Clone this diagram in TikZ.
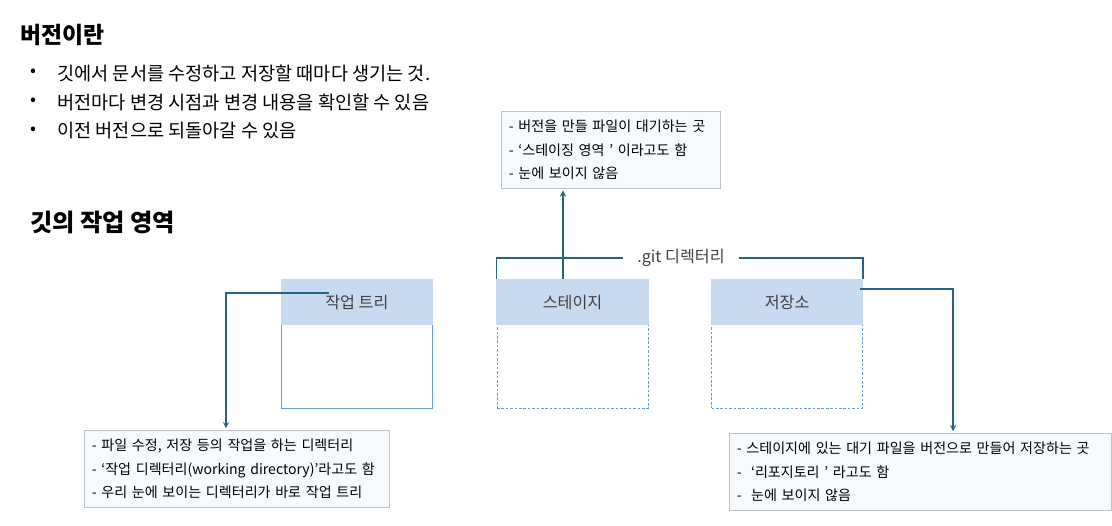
\documentclass[tikz,border=0pt]{standalone}
\usepackage{fontspec}
\setmainfont{Noto Sans CJK KR}
\usepackage{xcolor}
\usetikzlibrary{positioning, arrows}
\definecolor{linkblue}{RGB}{35,100,135}
\definecolor{headblue}{RGB}{200,218,240}
\definecolor{bodyblue}{RGB}{96,160,215}
\definecolor{notefill}{RGB}{246,250,253}
\definecolor{notegrey}{RGB}{190,195,200}
\definecolor{headtext}{RGB}{64,64,64}
\tikzstyle{title} = [anchor=west, inner sep=0pt, font=\fontsize{13}{15}\selectfont\bfseries]
\tikzstyle{bullettext} = [anchor=west, inner sep=0pt, font=\fontsize{10.6}{12}\selectfont]
\tikzstyle{bulletdot} = [inner sep=0pt, font=\fontsize{10}{12}\selectfont]
\tikzstyle{areabody} = [rectangle, draw=bodyblue, minimum width=3.02cm, minimum height=2.58cm, anchor=north west]
\tikzstyle{areahead} = [rectangle, draw=headblue, fill=headblue, line width=0.8pt, minimum width=3.02cm, minimum height=0.9cm, anchor=north, text=headtext, font=\fontsize{9.2}{11}\selectfont]
\tikzstyle{note} = [rectangle, draw=notegrey, fill=notefill, anchor=north west, align=left, inner xsep=0.15cm, minimum height=1.54cm, font=\fontsize{8}{13.3}\selectfont]
\tikzstyle{gitlabel} = [inner xsep=0.29cm, text=headtext, font=\fontsize{9.2}{11}\selectfont]
\tikzstyle{arrow} = [draw=linkblue, semithick, ->, >=stealth, shorten >=1pt]
\tikzstyle{gitline} = [draw=linkblue, semithick]

\begin{document}
\begin{tikzpicture}[x=0.02cm, y=-0.02cm]
        \useasboundingbox (0,0) rectangle (1112,526);

        % Text
        \node (vertitle) [title] at (20,35) {버전이란};
        \node (dot1) [bulletdot] at (33,73) {•};
        \node (ver1) [bullettext] at (57,73) {깃에서 문서를 수정하고 저장할 때마다 생기는 것.};
        \node (dot2) [bulletdot] at (33,102) {•};
        \node (ver2) [bullettext] at (57,102) {버전마다 변경 시점과 변경 내용을 확인할 수 있음};
        \node (dot3) [bulletdot] at (33,131) {•};
        \node (ver3) [bullettext] at (57,131) {이전 버전으로 되돌아갈 수 있음};
        \node (areatitle) [title, font=\fontsize{13.8}{16}\selectfont\bfseries] at (30,222) {깃의 작업 영역};

        % Areas
        \node (wtbody) [areabody] at (281,279) {};
        \node (stbody) [areabody, dashed, dash pattern=on 1.5pt off 1pt, right=1.28cm of wtbody] {};
        \node (rpbody) [areabody, dashed, dash pattern=on 1.5pt off 1pt, right=1.26cm of stbody] {};
        \node (wthead) [areahead] at (wtbody.north) {작업 트리};
        \node (sthead) [areahead] at (stbody.north) {스테이지};
        \node (rphead) [areahead] at (rpbody.north) {저장소};

        % Notes
        \node (stnote) [note, minimum width=4.38cm, text width=4.08cm] at (501,111)
            {- 버전을 만들 파일이 대기하는 곳\\- ‘스테이징 영역 ’ 이라고도 함\\- 눈에 보이지 않음};
        \node (wtnote) [note, text width=5.8cm] at (84,430)
            {- 파일 수정, 저장 등의 작업을 하는 디렉터리\\- ‘작업 디렉터리(working directory)’라고도 함\\- 우리 눈에 보이는 디렉터리가 바로 작업 트리};
        \node (rpnote) [note, minimum width=7.64cm, text width=7.34cm] at (729,433)
            {- 스테이지에 있는 대기 파일을 버전으로 만들어 저장하는 곳\\-~~‘리포지토리 ’ 라고도 함\\-~~눈에 보이지 않음};

        % .git bracket
        \node (gitdir) [gitlabel] at (681,258) {.git 디렉터리};
        \draw [gitline] (stbody.north west) |- (gitdir.west);
        \draw [gitline] (gitdir.east) -| (rpbody.north east);

        % Arrows
        \coordinate (wtpin) at (329,293);
        \coordinate (wtbend) at (226,293);
        \coordinate (stpin) at (563,279);
        \coordinate (rppin) at (860,289);
        \coordinate (rpbend) at (953,289);
        \draw [arrow] (wtpin) -- (wtbend) -- (wtbend |- wtnote.north);
        \draw [arrow] (stpin) -- (stpin |- stnote.south);
        \draw [arrow] (rppin) -- (rpbend) -- (rpbend |- rpnote.north);
    \end{tikzpicture}
\end{document}
